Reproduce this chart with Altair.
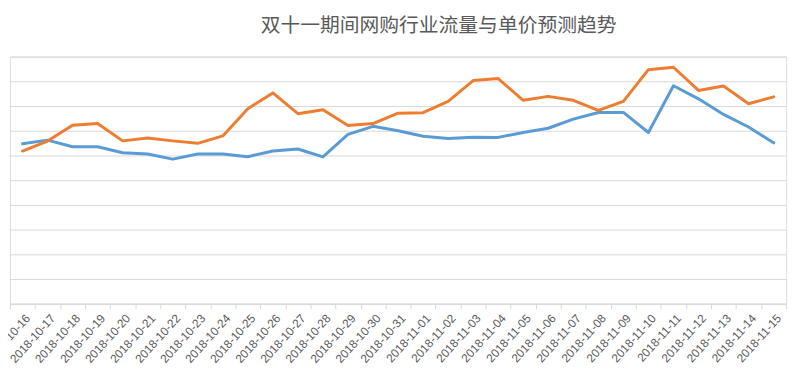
import altair as alt
import pandas as pd

dates = [
    "2018-10-16", "2018-10-17", "2018-10-18", "2018-10-19", "2018-10-20", "2018-10-21",
    "2018-10-22", "2018-10-23", "2018-10-24", "2018-10-25", "2018-10-26", "2018-10-27",
    "2018-10-28", "2018-10-29", "2018-10-30", "2018-10-31", "2018-11-01", "2018-11-02",
    "2018-11-03", "2018-11-04", "2018-11-05", "2018-11-06", "2018-11-07", "2018-11-08",
    "2018-11-09", "2018-11-10", "2018-11-11", "2018-11-12", "2018-11-13", "2018-11-14",
    "2018-11-15",
]
traffic = [6.47, 6.62, 6.35, 6.35, 6.11, 6.06, 5.85, 6.06, 6.06, 5.95, 6.18, 6.26,
           5.94, 6.85, 7.18, 7.00, 6.78, 6.69, 6.74, 6.73, 6.93, 7.10, 7.47, 7.74,
           7.74, 6.93, 8.82, 8.29, 7.66, 7.15, 6.51]
price = [6.18, 6.58, 7.22, 7.29, 6.59, 6.71, 6.59, 6.49, 6.79, 7.89, 8.53, 7.69,
         7.85, 7.21, 7.29, 7.71, 7.73, 8.19, 9.03, 9.11, 8.23, 8.39, 8.23, 7.82,
         8.19, 9.47, 9.57, 8.63, 8.81, 8.09, 8.37]
grid_values = [0, 1, 2, 3, 4, 5, 6, 7, 8, 9, 10]
series_names = ["流量", "单价"]
series_colors = ["#5B9BD5", "#ED7D31"]

rows = []
for d, t, p in zip(dates, traffic, price):
    rows.append({"date": d, "value": t, "series": series_names[0]})
    rows.append({"date": d, "value": p, "series": series_names[1]})
df = pd.DataFrame(rows)

chart = (
    alt.Chart(df)
    .mark_line(strokeWidth=3, strokeCap="round", strokeJoin="round")
    .encode(
        x=alt.X(
            "date:N",
            sort=dates,
            bandPosition=0.5,
            scale=alt.Scale(type="band", paddingInner=0, paddingOuter=0),
            axis=alt.Axis(
                title=None,
                labelAngle=-48,
                labelFont="Liberation Sans",
                labelFontSize=12,
                labelColor="#595959",
                labelPadding=7,
                labelOffset=5,
                tickBand="extent",
                tickColor="#D9D9D9",
                tickSize=5,
                domainColor="#D9D9D9",
                grid=False,
                labelOverlap=False,
            ),
        ),
        y=alt.Y(
            "value:Q",
            scale=alt.Scale(domain=[0, 10], nice=False, zero=True),
            axis=alt.Axis(
                title=None,
                labels=False,
                ticks=False,
                domain=False,
                values=grid_values,
                gridColor="#D9D9D9",
                gridWidth=1,
            ),
        ),
        color=alt.Color(
            "series:N",
            scale=alt.Scale(domain=series_names, range=series_colors),
            legend=None,
        ),
    )
    .properties(
        width=785,
        height=250,
        autosize=alt.AutoSizeParams(type="none"),
        padding={"left": 2, "top": 47, "right": 10, "bottom": 78},
        title=alt.TitleParams(
            "双十一期间网购行业流量与单价预测趋势",
            font="Noto Sans CJK SC",
            fontSize=20,
            fontWeight="normal",
            color="#595959",
            anchor="middle",
            dx=41,
            offset=21,
        ),
    )
    .configure_view(stroke=None)
    .configure(background="white")
)

chart.save("out.html", embed_options={"renderer": "svg", "actions": False})
